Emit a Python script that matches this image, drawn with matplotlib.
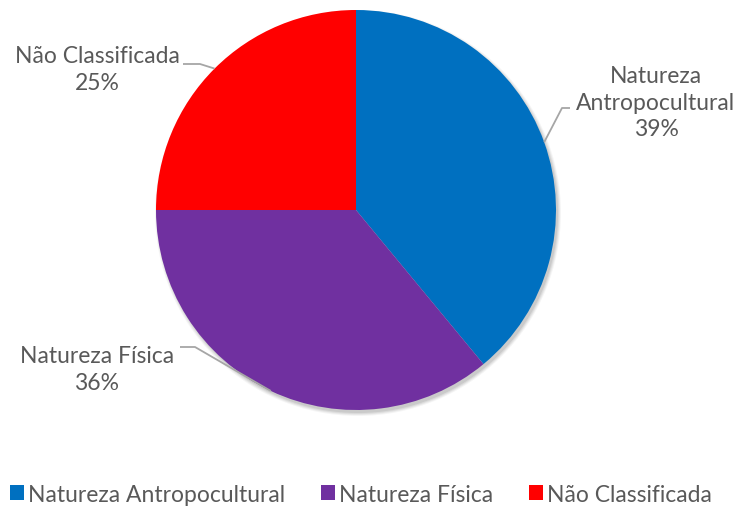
import numpy as np
import matplotlib.pyplot as plt

categories = ["Natureza Antropocultural", "Natureza Física", "Não Classificada"]
shares = [39, 36, 25]
colors = ["#0070C0", "#7030A0", "#FF0000"]
label_texts = ["Natureza\nAntropocultural\n39%", "Natureza Física\n36%", "Não Classificada\n25%"]

plt.rcParams['font.family'] = ['Lato', 'DejaVu Sans']

W, H = 737, 510
fig = plt.figure(figsize=(W / 100, H / 100), dpi=100)
ax = fig.add_axes([0, 0, 1, 1])
ax.set_xlim(0, W)
ax.set_ylim(0, H)
ax.set_aspect('equal')
ax.axis('off')

cx, cy, r = 356, H - 211, 200

# soft drop shadow behind the pie
for k, a in enumerate([0.07, 0.06, 0.05, 0.04]):
    ax.pie([1], colors=["#000000"], radius=r + k, center=(cx + 2, cy - 3),
           wedgeprops=dict(alpha=a, linewidth=0))

wedges, _ = ax.pie(shares, colors=colors, startangle=90, counterclock=False,
                   radius=r, center=(cx, cy),
                   wedgeprops=dict(linewidth=0))
ax.set_xlim(0, W)
ax.set_ylim(0, H)

# label positions (text centre) and elbow points of the leader lines
text_pos = [(656, H - 103), (97, H - 370), (97, H - 70)]
elbows = [((570, H - 109), (562, H - 109)),
          ((180, H - 348), (195, H - 348)),
          ((183, H - 65), (200, H - 65))]

for w, txt, tp, (e0, e1) in zip(wedges, label_texts, text_pos, elbows):
    mid = np.deg2rad((w.theta1 + w.theta2) / 2)
    px, py = cx + r * np.cos(mid), cy + r * np.sin(mid)
    ax.text(tp[0], tp[1], txt, ha='center', va='center', fontsize=16.5,
            color='#595959', linespacing=1.32)
    ax.plot([e0[0], e1[0], px], [e0[1], e1[1], py], color='#A6A6A6', lw=1.3,
            solid_capstyle='butt', zorder=1)

leg = fig.legend(wedges, categories, loc='lower center', ncol=3,
                 bbox_to_anchor=(0.49, -0.032), frameon=False, fontsize=16.5,
                 handlelength=0.6, handleheight=0.6, handletextpad=0.2,
                 columnspacing=1.55, labelcolor='#595959')

fig.savefig('out.png', dpi=100, facecolor='white')
